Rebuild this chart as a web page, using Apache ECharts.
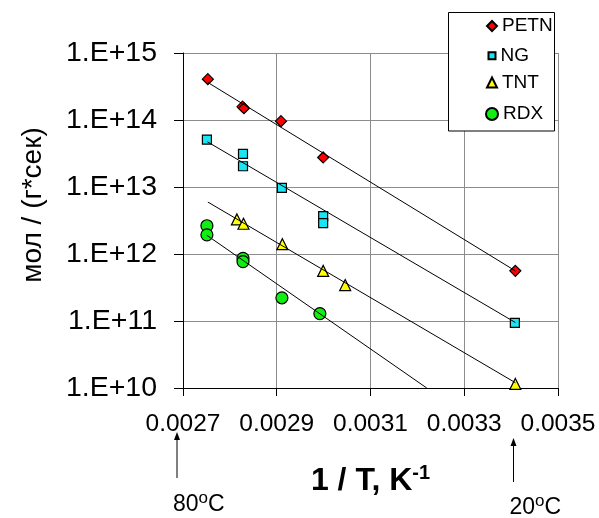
<!DOCTYPE html>
<html>
<head>
<meta charset="utf-8">
<script src="https://cdn.jsdelivr.net/npm/echarts@6/dist/echarts.min.js"></script>
<style>
  html, body { margin: 0; padding: 0; background: #fff; }
  #chart { width: 599px; height: 518px; }
</style>
</head>
<body>
<div id="chart"></div>
<script>
// Reaction rate constants vs inverse temperature (Arrhenius plot)
const seriesNames = ['PETN', 'NG', 'TNT', 'RDX'];

const petnX = [0.002753, 0.002827, 0.002830, 0.002909, 0.002999, 0.003409];
const petnY = [4.07e14, 1.58e14, 1.50e14, 9.6e13, 2.76e13, 5.6e11];

const ngX = [0.002751, 0.002828, 0.002828, 0.002911, 0.002999, 0.002999, 0.003408];
const ngY = [5.1e13, 3.13e13, 2.04e13, 9.7e12, 3.67e12, 2.88e12, 9.4e10];

const tntX = [0.002815, 0.002829, 0.002912, 0.002999, 0.003046, 0.003409];
const tntY = [3.28e12, 2.83e12, 1.40e12, 5.6e11, 3.44e11, 1.15e10];

const rdxX = [0.002751, 0.002751, 0.002828, 0.002828, 0.002911, 0.002992];
const rdxY = [2.64e12, 1.93e12, 8.6e11, 7.7e11, 2.22e11, 1.29e11];

// Exponential trend lines: start and end points
const petnTrendX = [0.002753, 0.003409];
const petnTrendY = [3.63e14, 5.6e11];
const ngTrendX = [0.002752, 0.003409];
const ngTrendY = [4.73e13, 9.5e10];
const tntTrendX = [0.002753, 0.003409];
const tntTrendY = [5.96e12, 1.2e10];
const rdxTrendX = [0.002751, 0.003220];
const rdxTrendY = [1.9e12, 1.0e10];

const xTicks = { min: 0.0027, max: 0.0035, step: 0.0002 };
const yTicks = { min: 1e10, max: 1e15 };

const FONT = 'Liberation Sans, Arial, sans-serif';

function pairs(xs, ys) { return xs.map((x, i) => [x, ys[i]]); }

const markerStyles = {
  PETN: { symbol: 'diamond', size: 11, color: '#ff0000', legendSize: 10 },
  NG:   { symbol: 'rect',    size: 9,  color: '#19e6f2', legendSize: 7 },
  TNT:  { symbol: 'triangle',size: 11, color: '#ffff00', legendSize: 10 },
  RDX:  { symbol: 'circle',  size: 12, color: '#11ee11', legendSize: 12 }
};

const pointData = {
  PETN: pairs(petnX, petnY),
  NG: pairs(ngX, ngY),
  TNT: pairs(tntX, tntY),
  RDX: pairs(rdxX, rdxY)
};
const trendData = {
  PETN: pairs(petnTrendX, petnTrendY),
  NG: pairs(ngTrendX, ngTrendY),
  TNT: pairs(tntTrendX, tntTrendY),
  RDX: pairs(rdxTrendX, rdxTrendY)
};

const series = [];
seriesNames.forEach(name => {
  const m = markerStyles[name];
  series.push({
    name: name,
    type: 'scatter',
    symbol: m.symbol,
    symbolSize: m.size,
    data: pointData[name],
    itemStyle: { color: m.color, borderColor: '#000', borderWidth: 1.2, opacity: 1 },
    z: 2
  });
});
seriesNames.forEach(name => {
  series.push({
    name: name + ' trend',
    type: 'line',
    data: trendData[name],
    showSymbol: false,
    symbol: 'none',
    lineStyle: { color: '#000', width: 1 },
    silent: true,
    z: 3
  });
});

// One legend block per row so each marker keeps its own size
const legendRows = [26, 55.7, 82.5, 114];
const legendIconX = 491;
const legends = seriesNames.map((name, i) => {
  const s = markerStyles[name].legendSize;
  return {
    data: [name],
    left: legendIconX - s / 2,
    top: legendRows[i] - 10,
    padding: 0,
    itemWidth: s,
    itemHeight: s,
    itemGap: 0,
    selectedMode: false,
    z: 20,
    textStyle: { fontFamily: FONT, fontSize: 19, color: '#000', lineHeight: 20 }
  };
});

function arrow(x, yBottom, yTip) {
  return [
    { type: 'line', z: 10, shape: { x1: x, y1: yBottom, x2: x, y2: yTip + 6 },
      style: { stroke: '#000', lineWidth: 1 } },
    { type: 'polygon', z: 10, shape: { points: [[x, yTip], [x - 3, yTip + 8], [x + 3, yTip + 8]] },
      style: { fill: '#000' } }
  ];
}

// Temperature note such as 80°C, with the degree sign as a raised small "o"
function degreeLabel(left, y, num) {
  const numW = 0.556 * 23 * num.length;
  const supW = 0.556 * 17;
  const base = { fontFamily: FONT, fill: '#000', align: 'left', verticalAlign: 'middle' };
  return {
    type: 'group', x: left, y: y, z: 10,
    children: [
      { type: 'text', z: 10, x: 0, y: 0, style: Object.assign({ text: num, fontSize: 23 }, base) },
      { type: 'text', z: 10, x: numW, y: -7, style: Object.assign({ text: 'o', fontSize: 17 }, base) },
      { type: 'text', z: 10, x: numW + supW, y: 0, style: Object.assign({ text: 'C', fontSize: 23 }, base) }
    ]
  };
}

const option = {
  backgroundColor: '#ffffff',
  animation: false,
  grid: { left: 183, right: 41, top: 53, bottom: 130, containLabel: false },
  legend: legends,
  xAxis: {
    type: 'value',
    min: xTicks.min,
    max: xTicks.max,
    interval: xTicks.step,
    name: '{a|1 / T, K}{b|-1}',
    nameLocation: 'middle',
    nameGap: 75,
    nameTextStyle: {
      rich: {
        a: { fontFamily: FONT, fontSize: 32, fontWeight: 'bold', color: '#000', lineHeight: 36 },
        b: { fontFamily: FONT, fontSize: 20, fontWeight: 'bold', color: '#000', lineHeight: 20, padding: [0, 0, 16, 0] }
      }
    },
    axisLine: { show: true, lineStyle: { color: '#000', width: 1 } },
    axisTick: { show: true, inside: false, length: 8, lineStyle: { color: '#000' } },
    axisLabel: {
      margin: 24, fontFamily: FONT, fontSize: 24.5, color: '#000',
      formatter: v => v.toFixed(4)
    },
    splitLine: { show: true, lineStyle: { color: '#8c8c8c', width: 1 } }
  },
  yAxis: {
    type: 'log',
    logBase: 10,
    min: yTicks.min,
    max: yTicks.max,
    axisLine: { show: true, lineStyle: { color: '#000', width: 1 } },
    axisTick: { show: true, inside: false, length: 9, lineStyle: { color: '#000' } },
    axisLabel: {
      margin: 26, fontFamily: FONT, fontSize: 28.5, color: '#000',
      formatter: v => '1.E+' + Math.round(Math.log10(v))
    },
    splitLine: { show: true, lineStyle: { color: '#8c8c8c', width: 1 } },
    minorTick: { show: false },
    minorSplitLine: { show: false }
  },
  graphic: [
    { type: 'rect', z: 10,
      shape: { x: 448.5, y: 12.5, width: 106, height: 118.5 },
      style: { fill: '#fff', stroke: '#000', lineWidth: 1 } },
    { type: 'text', z: 10, x: 33, y: 205, rotation: Math.PI / 2,
      style: { text: 'мол / (г*сек)', fontFamily: FONT, fontSize: 28, fill: '#000',
               align: 'center', verticalAlign: 'middle' } },
    ...arrow(177, 478, 432),
    ...arrow(513.5, 482, 438),
    degreeLabel(173, 505, '80'),
    degreeLabel(509.5, 508, '20')
  ],
  series: series
};

const chart = echarts.init(document.getElementById('chart'), null, { renderer: 'canvas' });
chart.setOption(option);
</script>
</body>
</html>
